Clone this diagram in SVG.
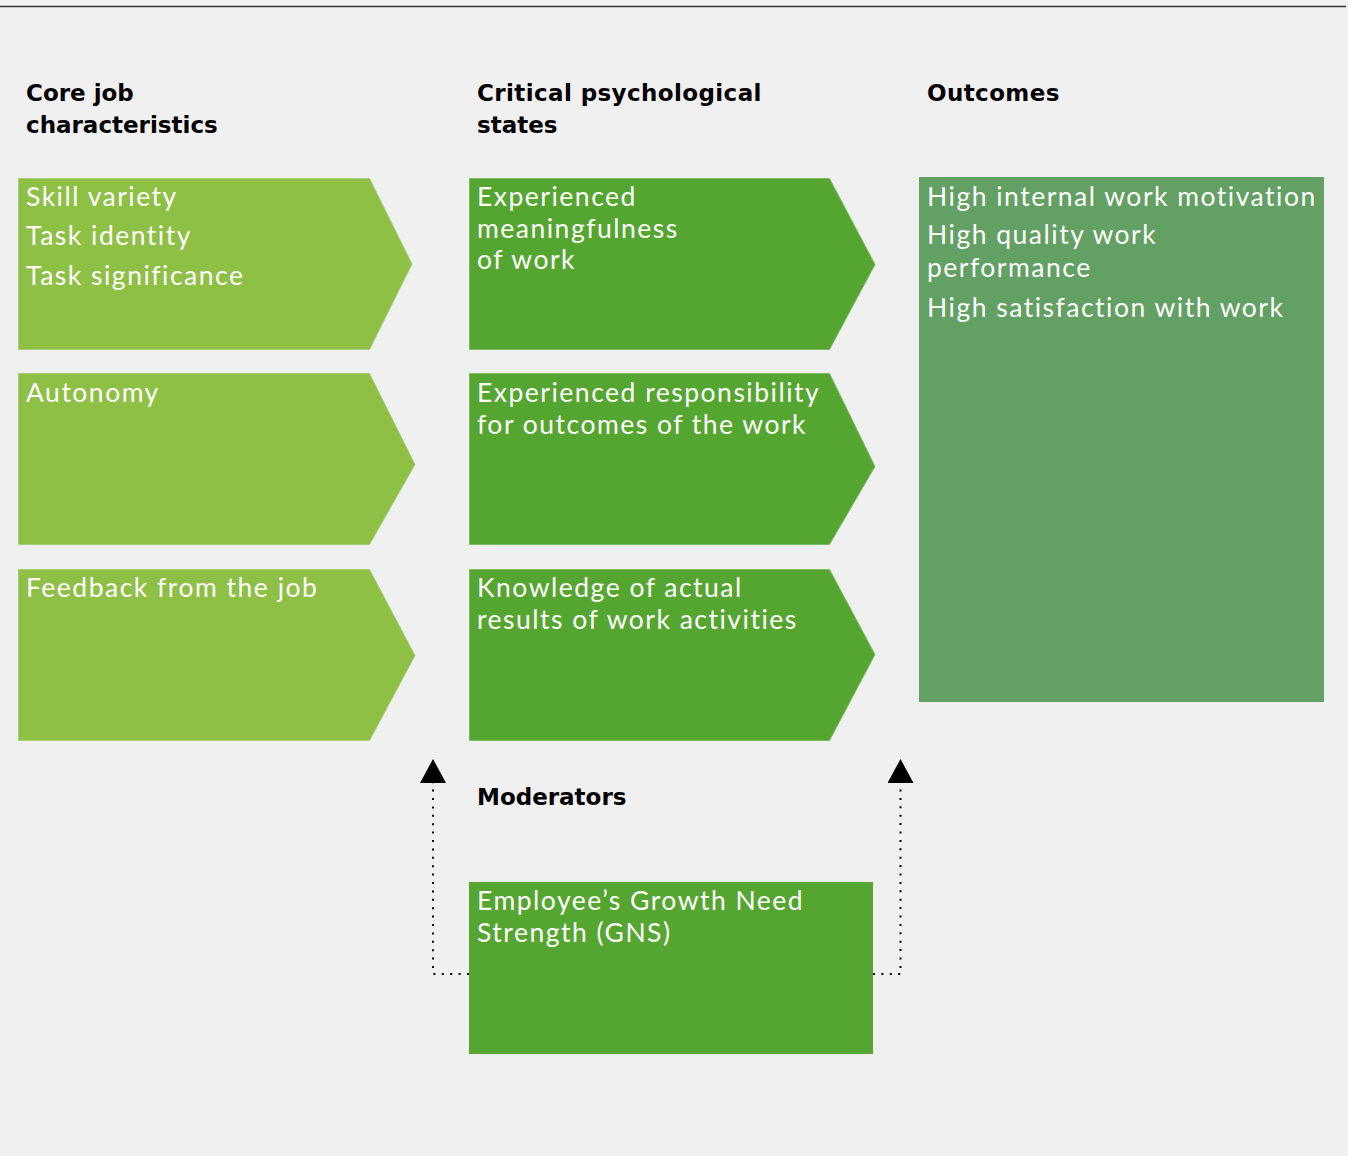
<svg xmlns="http://www.w3.org/2000/svg" width="1348" height="1156" viewBox="0 0 1348 1156">
<defs>
<style>
.bg{fill:#f0f0f0}
.head{font-family:"DejaVu Sans","Liberation Sans",sans-serif;font-weight:bold;font-size:23px;fill:#000}
.body{font-family:Lato,"Open Sans","Liberation Sans",sans-serif;font-weight:400;font-size:26.5px;fill:#fff;letter-spacing:1.5px}
.light{fill:#8ec045;stroke:#a6cf78;stroke-width:1}
.dark{fill:#55a630;stroke:#7cbd62;stroke-width:1}
.out{fill:#63a063}
.dot{fill:none;stroke:#000;stroke-width:2;stroke-dasharray:2 6.4}
</style>
<marker id="tri" viewBox="0 0 24 26" refX="0" refY="13" markerWidth="24" markerHeight="26" markerUnits="userSpaceOnUse" orient="auto">
<path d="M0,0 L24,13 L0,26 Z" fill="#000"/>
</marker>
</defs>
<rect class="bg" x="0" y="0" width="1348" height="1156"/>
<line x1="0" y1="6.5" x2="1346" y2="6.5" stroke="#333" stroke-width="1.5"/>

<g id="headings">
<text class="head" x="26" y="100.7">Core job</text>
<text class="head" x="26" y="132.7">characteristics</text>
<text class="head" x="477" y="100.7" letter-spacing="0.4">Critical psychological</text>
<text class="head" x="477" y="132.7">states</text>
<text class="head" x="927" y="100.7" letter-spacing="0.4">Outcomes</text>
<text class="head" x="477" y="805">Moderators</text>
</g>

<g id="core1">
<path class="light" d="M18.5,178.5 H369.5 L412,264 L369.5,349.5 H18.5 Z"/>
<text class="body" x="26" y="205.7">Skill variety</text>
<text class="body" x="26" y="245">Task identity</text>
<text class="body" x="26" y="285">Task significance</text>
</g>
<g id="core2">
<path class="light" d="M18.5,373.5 H369.5 L415,464.5 L369.5,544.5 H18.5 Z"/>
<text class="body" x="26" y="401.7">Autonomy</text>
</g>
<g id="core3">
<path class="light" d="M18.5,569.5 H369.5 L415,655.5 L369.5,740.5 H18.5 Z"/>
<text class="body" x="26" y="596.7">Feedback from the job</text>
</g>

<g id="state1">
<path class="dark" d="M469.5,178.5 H829.5 L875,264.5 L829.5,349.5 H469.5 Z"/>
<text class="body" x="477" y="205.7">Experienced</text>
<text class="body" x="477" y="237.5">meaningfulness</text>
<text class="body" x="477" y="269.3">of work</text>
</g>
<g id="state2">
<path class="dark" d="M469.5,373.5 H829.5 L875,466.5 L829.5,544.5 H469.5 Z"/>
<text class="body" x="477" y="401.7">Experienced responsibility</text>
<text class="body" x="477" y="433.7">for outcomes of the work</text>
</g>
<g id="state3">
<path class="dark" d="M469.5,569.5 H829.5 L875,654.5 L829.5,740.5 H469.5 Z"/>
<text class="body" x="477" y="596.7">Knowledge of actual</text>
<text class="body" x="477" y="628.7">results of work activities</text>
</g>

<g id="outcomes">
<rect class="out" x="919" y="177" width="405" height="525"/>
<text class="body" x="927" y="205.7">High internal work motivation</text>
<text class="body" x="927" y="244.3">High quality work</text>
<text class="body" x="927" y="276.7">performance</text>
<text class="body" x="927" y="316.7">High satisfaction with work</text>
</g>

<g id="moderator">
<rect x="469" y="882" width="404" height="172" fill="#55a630"/>
<text class="body" x="477" y="910">Employee’s Growth Need</text>
<text class="body" x="477" y="942">Strength (GNS)</text>
</g>

<g id="connectors">
<path class="dot" d="M469,974 H433 V783" marker-end="url(#tri)"/>
<path class="dot" d="M873,974 H900.5 V783" marker-end="url(#tri)"/>
</g>
</svg>
